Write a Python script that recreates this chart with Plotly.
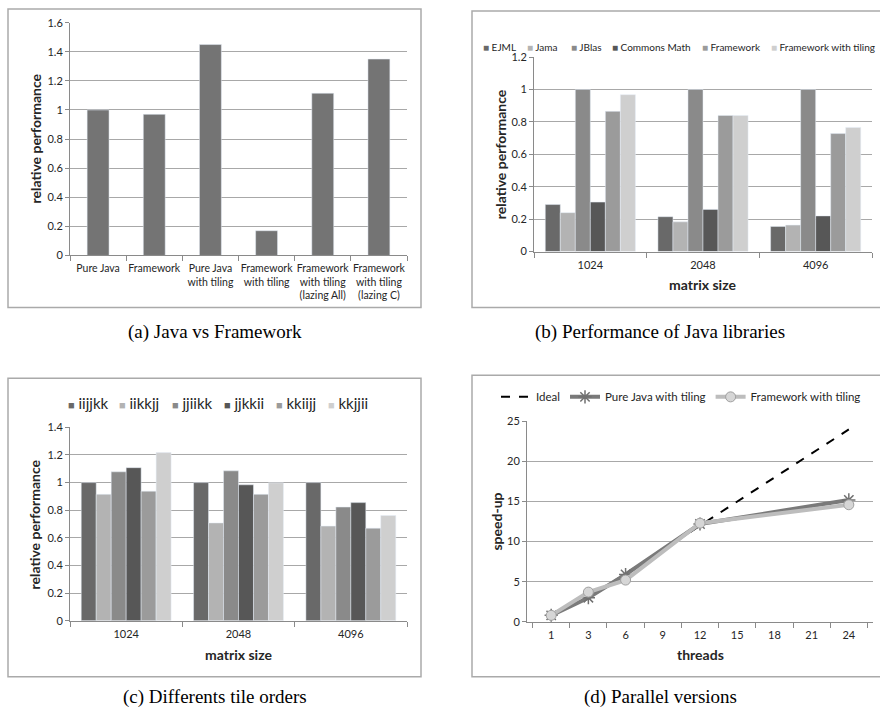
import plotly.graph_objects as go

W, H = 880, 724


def px_x(x):
    return x / W


def px_y(y):
    return 1 - y / H


# ---------------- data ----------------
# (a) Java vs Framework
versions = ["Pure Java", "Framework", "Pure Java<br>with tiling", "Framework<br>with tiling",
            "Framework<br>with tiling<br>(lazing All)", "Framework<br>with tiling<br>(lazing C)"]
relative_perf_a = [1.0, 0.97, 1.45, 0.17, 1.115, 1.35]

# (b) Performance of Java libraries
matrix_sizes = ["1024", "2048", "4096"]
libraries = ["EJML", "Jama", "JBlas", "Commons Math", "Framework", "Framework with tiling"]
ejml = [0.29, 0.215, 0.155]
jama = [0.24, 0.183, 0.163]
jblas = [1.0, 1.0, 1.0]
commons_math = [0.305, 0.26, 0.22]
framework = [0.865, 0.84, 0.728]
framework_tiling = [0.968, 0.84, 0.766]

# (c) Different tile orders
tile_orders = ["iijjkk", "iikkjj", "jjiikk", "jjkkii", "kkiijj", "kkjjii"]
iijjkk = [1.0, 1.0, 1.0]
iikkjj = [0.915, 0.708, 0.685]
jjiikk = [1.078, 1.085, 0.823]
jjkkii = [1.108, 0.984, 0.855]
kkiijj = [0.938, 0.915, 0.67]
kkjjii = [1.217, 0.998, 0.762]

# (d) Parallel versions
threads = ["1", "3", "6", "9", "12", "15", "18", "21", "24"]
ideal = [1, 3, 6, None, 12, None, None, None, 24]
pure_java_tiling = [0.8, 3.0, 5.9, None, 12.2, None, None, None, 15.2]
framework_tiling_speedup = [0.8, 3.7, 5.2, None, 12.3, None, None, None, 14.6]

# ---------------- style ----------------
FONT = "Lato"
SERIF = "Liberation Serif"
TXT = "#262626"
GRID = "#a8a8a8"
AX = "#8a8a8a"
SERIES_COLORS = ["#696969", "#b3b3b3", "#8a8a8a", "#575757", "#9b9b9b", "#cfcfcf"]
BAR_A = "#747474"

fig = go.Figure()

# (a)
fig.add_trace(go.Bar(x=versions, y=relative_perf_a, marker_color=BAR_A, width=0.39,
                     xaxis="x", yaxis="y", showlegend=False, name="relative performance"))

# (b)
for name, vals, col in zip(libraries, [ejml, jama, jblas, commons_math, framework, framework_tiling],
                           SERIES_COLORS):
    fig.add_trace(go.Bar(x=matrix_sizes, y=vals, name=name, marker_color=col,
                         xaxis="x2", yaxis="y2", showlegend=False))

# (c)
for name, vals, col in zip(tile_orders, [iijjkk, iikkjj, jjiikk, jjkkii, kkiijj, kkjjii], SERIES_COLORS):
    fig.add_trace(go.Bar(x=matrix_sizes, y=vals, name=name, marker_color=col,
                         xaxis="x3", yaxis="y3", showlegend=False))

# (d)
fig.add_trace(go.Scatter(x=threads, y=ideal, name="Ideal", mode="lines", connectgaps=True,
                         line=dict(color="black", width=2, dash="dash"),
                         xaxis="x4", yaxis="y4"))
fig.add_trace(go.Scatter(x=threads, y=pure_java_tiling, name="Pure Java with tiling", mode="lines+markers",
                         connectgaps=True, line=dict(color="#7a7a7a", width=4),
                         marker=dict(symbol="asterisk-open", size=11, color="#707070",
                                     line=dict(color="#707070", width=1.5)),
                         xaxis="x4", yaxis="y4"))
fig.add_trace(go.Scatter(x=threads, y=framework_tiling_speedup, name="Framework with tiling",
                         mode="lines+markers", connectgaps=True, line=dict(color="#bdbdbd", width=4),
                         marker=dict(symbol="circle", size=10, color="#d6d6d6",
                                     line=dict(color="#a0a0a0", width=1)),
                         xaxis="x4", yaxis="y4"))


def xax(x0, x1, anchor, fs=11):
    return dict(domain=[px_x(x0), px_x(x1)], anchor=anchor, type="category",
                showline=True, linecolor=AX, linewidth=1, showgrid=False, zeroline=False,
                ticks="outside", tickson="boundaries", ticklen=5, tickcolor=AX, tickangle=0,
                ticklabelstandoff=3,
                tickfont=dict(family=FONT, size=fs, color=TXT), fixedrange=True)


def yax(y0, y1, rng, dtick, anchor):
    return dict(domain=[px_y(y1), px_y(y0)], anchor=anchor, range=rng, dtick=dtick, tick0=0,
                showline=True, linecolor=AX, linewidth=1, showgrid=True, gridcolor=GRID, gridwidth=1,
                zeroline=False, ticks="outside", ticklen=4, tickcolor=AX,
                tickfont=dict(family=FONT, size=11, color=TXT), fixedrange=True)


# plot areas in pixels: (x0, x1, ytop, ybottom)
A = (70, 407, 16, 253)
B = (534, 872, 51, 249)
C = (70, 407, 428, 625)
D = (527, 873, 422, 626)

annotations = []
shapes = []

# panel borders
for (bx0, by0, bx1, by1) in [(8, 2, 421, 306), (472, 4, 890, 306), (8, 378, 421, 682), (472, 375, 890, 682)]:
    shapes.append(dict(type="rect", xref="paper", yref="paper",
                       x0=px_x(bx0), x1=px_x(bx1), y0=px_y(by1), y1=px_y(by0),
                       line=dict(color="#aaaaaa", width=1.5), fillcolor="rgba(0,0,0,0)", layer="below"))

# captions
for txt, cx, cy in [("(a) Java vs Framework", 215, 331), ("(b) Performance of Java libraries", 660, 331),
                    ("(c) Differents tile orders", 215, 703), ("(d) Parallel versions", 660, 703)]:
    annotations.append(dict(text=txt, x=px_x(cx), y=px_y(cy), xref="paper", yref="paper",
                            xanchor="center", yanchor="middle", showarrow=False,
                            font=dict(family=SERIF, size=19, color="black")))

# axis titles
for txt, cx, cy, ang in [("relative performance", 36, 134, -90), ("relative performance", 500, 150, -90),
                         ("matrix size", 702, 283, 0), ("relative performance", 35, 527, -90),
                         ("matrix size", 238, 659, 0), ("speed-up", 497, 524, -90), ("threads", 700, 659, 0)]:
    annotations.append(dict(text="<b>%s</b>" % txt, x=px_x(cx), y=px_y(cy), xref="paper", yref="paper",
                            xanchor="center", yanchor="middle", showarrow=False, textangle=ang,
                            font=dict(family=FONT, size=14, color=TXT)))

# legends (b) and (c) as text entries
LEG_B_X = [482, 526, 570, 611, 701, 770]
LEG_C_X = [67, 118, 171, 223, 275, 327]
for name, col, lx in zip(libraries, SERIES_COLORS, LEG_B_X):
    annotations.append(dict(text='<span style="color:%s;font-size:10px">■</span> %s' % (col, name),
                            x=px_x(lx), y=px_y(41), xref="paper", yref="paper", borderpad=0,
                            xanchor="left", yanchor="middle", showarrow=False,
                            font=dict(family=FONT, size=10, color=TXT)))
for name, col, lx in zip(tile_orders, SERIES_COLORS, LEG_C_X):
    annotations.append(dict(text='<span style="color:%s;font-size:11px">■</span> %s' % (col, name),
                            x=px_x(lx), y=px_y(403), xref="paper", yref="paper", borderpad=0,
                            xanchor="left", yanchor="middle", showarrow=False,
                            font=dict(family=FONT, size=15, color=TXT)))

fig.update_layout(
    width=W, height=H, margin=dict(l=0, r=0, t=0, b=0),
    paper_bgcolor="white", plot_bgcolor="white",
    barmode="group", bargap=0.2, bargroupgap=0,
    font=dict(family=FONT, color=TXT),
    xaxis=xax(A[0], A[1], "y", fs=10.5), yaxis=yax(A[2], A[3], [0, 1.6], 0.2, "x"),
    xaxis2=xax(B[0], B[1], "y2"), yaxis2=yax(B[2], B[3], [0, 1.2], 0.2, "x2"),
    xaxis3=xax(C[0], C[1], "y3"), yaxis3=yax(C[2], C[3], [0, 1.4], 0.2, "x3"),
    xaxis4=xax(D[0], D[1], "y4"), yaxis4=yax(D[2], D[3], [0, 25], 5, "x4"),
    legend=dict(orientation="h", x=px_x(496), y=px_y(397), xanchor="left", yanchor="middle",
                bgcolor="rgba(0,0,0,0)", font=dict(family=FONT, size=11.5, color=TXT),
                itemwidth=30, tracegroupgap=0),
    shapes=shapes, annotations=annotations,
)

fig.write_html("out.html", config={"displayModeBar": False},
               post_script="document.body.style.margin='0px';")
